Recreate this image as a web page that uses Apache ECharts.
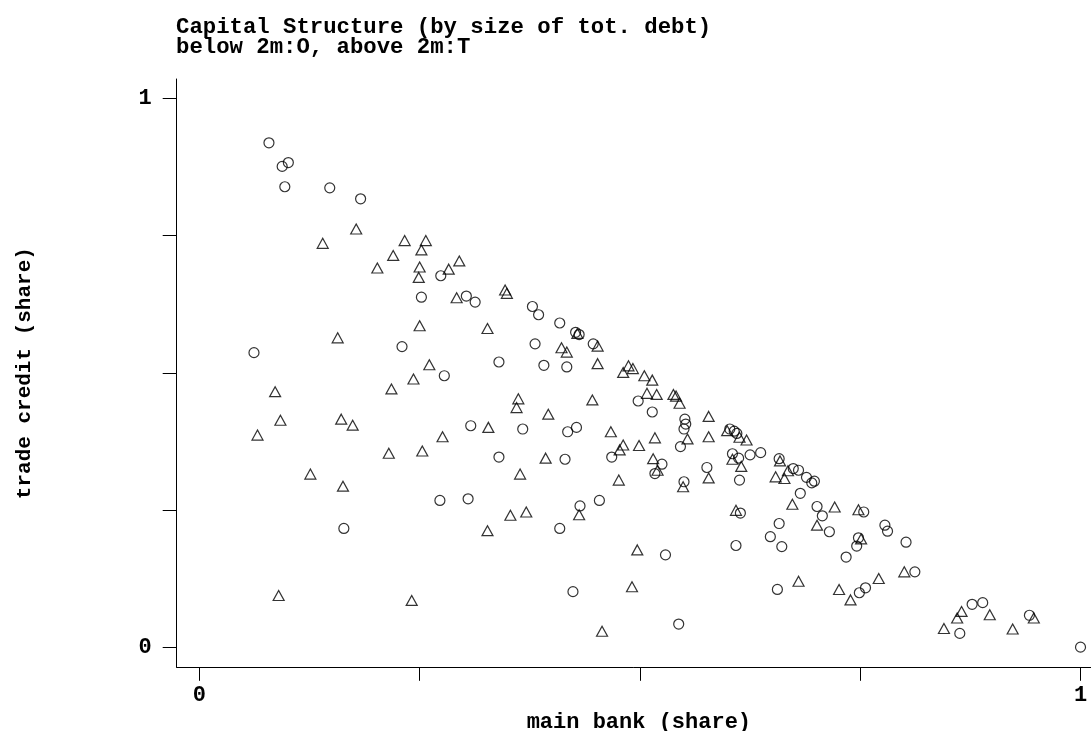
<!DOCTYPE html>
<html>
<head>
<meta charset="utf-8">
<script src="https://cdn.jsdelivr.net/npm/echarts@6/dist/echarts.min.js"></script>
<style>
  html, body { margin: 0; padding: 0; background: #fff; }
  #chart { width: 1091px; height: 731px; }
</style>
</head>
<body>
<div id="chart"></div>
<script>
/* capital structure scatter: main bank share vs trade credit share */
const titleLines = ['Capital Structure (by size of tot. debt)', 'below 2m:O, above 2m:T'];
const xTitle = 'main bank (share)';
const yTitle = 'trade credit (share)';
const tickValues = [0, 0.25, 0.5, 0.75, 1];
const labelValues = [0, 1];

// firms with total debt below 2m (circles)  [main bank, trade credit]
const below2m = [
  [0.079, 0.919], [0.094, 0.876], [0.101, 0.883], [0.097, 0.839], [0.148, 0.837],
  [0.183, 0.817], [0.274, 0.677], [0.252, 0.638], [0.303, 0.640], [0.313, 0.629],
  [0.062, 0.537], [0.230, 0.548], [0.340, 0.520], [0.278, 0.495], [0.378, 0.621],
  [0.385, 0.606], [0.409, 0.591], [0.427, 0.574], [0.431, 0.570], [0.381, 0.553],
  [0.447, 0.553], [0.391, 0.514], [0.417, 0.511], [0.498, 0.449], [0.514, 0.429],
  [0.367, 0.398], [0.418, 0.393], [0.428, 0.401], [0.551, 0.416], [0.552, 0.407],
  [0.550, 0.398], [0.602, 0.398], [0.607, 0.394], [0.610, 0.390], [0.546, 0.366],
  [0.468, 0.347], [0.340, 0.347], [0.415, 0.343], [0.525, 0.334], [0.517, 0.317],
  [0.550, 0.302], [0.576, 0.328], [0.605, 0.353], [0.612, 0.345], [0.625, 0.351],
  [0.637, 0.355], [0.613, 0.305], [0.658, 0.344], [0.674, 0.326], [0.680, 0.323],
  [0.682, 0.281], [0.614, 0.245], [0.658, 0.226], [0.648, 0.202], [0.661, 0.184],
  [0.609, 0.186], [0.432, 0.258], [0.454, 0.268], [0.409, 0.217], [0.529, 0.169],
  [0.424, 0.102], [0.656, 0.106], [0.544, 0.043], [0.308, 0.404], [0.273, 0.268],
  [0.305, 0.271], [0.164, 0.217], [0.689, 0.310], [0.695, 0.300], [0.698, 0.303],
  [0.701, 0.257], [0.707, 0.240], [0.754, 0.247], [0.715, 0.211], [0.748, 0.200],
  [0.746, 0.185], [0.734, 0.165], [0.778, 0.223], [0.781, 0.212], [0.802, 0.192],
  [0.749, 0.100], [0.756, 0.109], [0.812, 0.138], [0.863, 0.026], [0.877, 0.079],
  [0.889, 0.082], [0.942, 0.059], [1.000, 0.001]
];

// firms with total debt above 2m (triangles)
const above2m = [
  [0.140, 0.736], [0.178, 0.762], [0.233, 0.741], [0.257, 0.741], [0.252, 0.724],
  [0.220, 0.714], [0.202, 0.691], [0.250, 0.693], [0.249, 0.674], [0.283, 0.689],
  [0.295, 0.704], [0.292, 0.637], [0.250, 0.586], [0.327, 0.581], [0.157, 0.564],
  [0.261, 0.515], [0.243, 0.489], [0.347, 0.651], [0.349, 0.645], [0.429, 0.572],
  [0.411, 0.546], [0.417, 0.538], [0.452, 0.549], [0.452, 0.517], [0.481, 0.501],
  [0.487, 0.513], [0.492, 0.508], [0.505, 0.495], [0.514, 0.487], [0.362, 0.453],
  [0.360, 0.437], [0.396, 0.425], [0.446, 0.451], [0.508, 0.463], [0.519, 0.461],
  [0.538, 0.461], [0.541, 0.458], [0.545, 0.445], [0.328, 0.401], [0.467, 0.393],
  [0.517, 0.382], [0.578, 0.421], [0.578, 0.384], [0.599, 0.395], [0.613, 0.383],
  [0.621, 0.378], [0.554, 0.380], [0.499, 0.368], [0.481, 0.369], [0.477, 0.360],
  [0.393, 0.345], [0.364, 0.316], [0.515, 0.344], [0.520, 0.323], [0.549, 0.293],
  [0.578, 0.309], [0.605, 0.343], [0.615, 0.330], [0.476, 0.305], [0.659, 0.340],
  [0.654, 0.311], [0.664, 0.308], [0.668, 0.322], [0.673, 0.261], [0.609, 0.250],
  [0.353, 0.241], [0.371, 0.247], [0.327, 0.213], [0.431, 0.242], [0.497, 0.178],
  [0.491, 0.111], [0.680, 0.121], [0.457, 0.030], [0.086, 0.466], [0.092, 0.414],
  [0.066, 0.387], [0.161, 0.416], [0.174, 0.405], [0.218, 0.471], [0.276, 0.384],
  [0.215, 0.354], [0.253, 0.358], [0.126, 0.316], [0.163, 0.294], [0.090, 0.095],
  [0.241, 0.086], [0.721, 0.256], [0.748, 0.251], [0.701, 0.223], [0.751, 0.198],
  [0.726, 0.106], [0.739, 0.087], [0.771, 0.126], [0.800, 0.138], [0.845, 0.035],
  [0.860, 0.054], [0.865, 0.066], [0.897, 0.060], [0.923, 0.034], [0.947, 0.054]
];

const FONT = '"Liberation Mono", "DejaVu Sans Mono", monospace';

const chart = echarts.init(document.getElementById('chart'), null, { renderer: 'canvas' });

const hollow = { color: 'transparent', borderColor: '#000', borderWidth: 1.2 };

chart.setOption({
  animation: false,
  backgroundColor: '#fff',
  grid: { left: 176.7, right: 0, top: 79, bottom: 63.7, outerBoundsMode: 'none', containLabel: false },
  graphic: [
    { type: 'text', left: 176, top: 16,
      style: { text: titleLines.join('\n'), font: 'bold 22.3px ' + FONT, lineHeight: 20, fill: '#000' } }
  ],
  xAxis: {
    type: 'value', min: -0.0257, max: 1.0119,
    name: xTitle, nameLocation: 'middle', nameGap: 31,
    nameTextStyle: { fontFamily: FONT, fontWeight: 'bold', fontSize: 22, color: '#000', padding: [0, 0, 0, 10] },
    axisLine: { show: true, onZero: false, lineStyle: { color: '#000', width: 1 } },
    axisTick: { show: true, customValues: tickValues, length: 13.5, lineStyle: { color: '#000', width: 1 } },
    axisLabel: { customValues: labelValues, formatter: v => String(v), margin: 17,
      fontFamily: FONT, fontWeight: 'bold', fontSize: 22, color: '#000' },
    splitLine: { show: false }
  },
  yAxis: {
    type: 'value', min: -0.0357, max: 1.0351,
    name: yTitle, nameLocation: 'middle', nameGap: 141, nameRotate: 90,
    nameTextStyle: { fontFamily: FONT, fontWeight: 'bold', fontSize: 21, color: '#000' },
    axisLine: { show: true, onZero: false, lineStyle: { color: '#000', width: 1 } },
    axisTick: { show: true, customValues: tickValues, length: 14, lineStyle: { color: '#000', width: 1 } },
    axisLabel: { customValues: labelValues, formatter: v => String(v), margin: 25,
      fontFamily: FONT, fontWeight: 'bold', fontSize: 22, color: '#000' },
    splitLine: { show: false }
  },
  series: [
    { name: 'below 2m', type: 'scatter', data: below2m, symbol: 'circle', symbolSize: 10,
      itemStyle: hollow, emphasis: { disabled: true } },
    { name: 'above 2m', type: 'scatter', data: above2m, symbol: 'triangle', symbolSize: [11, 10],
      itemStyle: hollow, emphasis: { disabled: true } }
  ]
});
</script>
</body>
</html>
